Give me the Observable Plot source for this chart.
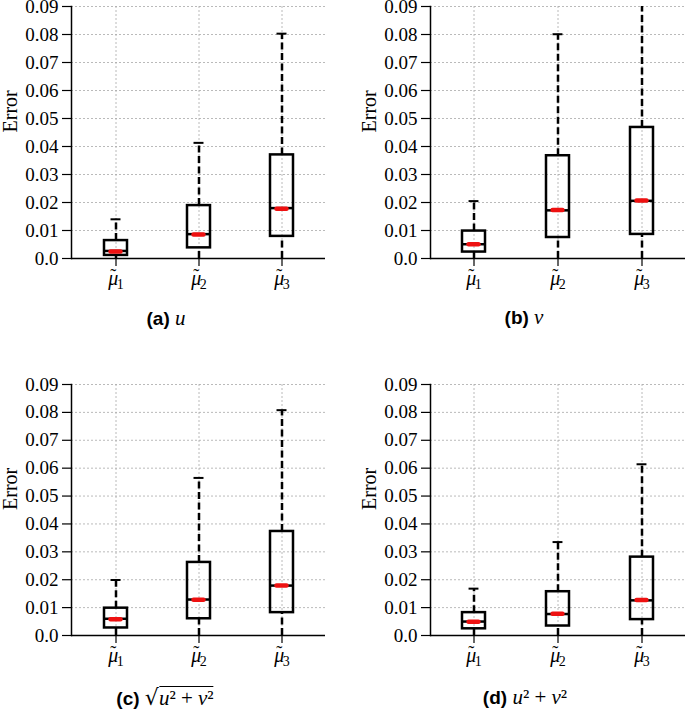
<!DOCTYPE html>
<html><head><meta charset="utf-8">
<script src="https://cdn.jsdelivr.net/npm/d3@7"></script>
<script src="https://cdn.jsdelivr.net/npm/@observablehq/plot@0.6"></script>
<style>
body{margin:0;background:#fff;}
#root{position:relative;width:685px;height:712px;overflow:hidden;background:#fff;}
.panel{position:absolute;}
.cap{position:absolute;font-family:"Liberation Sans",Arial,sans-serif;font-weight:bold;font-size:19px;line-height:22px;white-space:nowrap;transform:translateX(-50%);color:#000;}
.cap .m{font-family:"Liberation Serif",serif;font-weight:normal;font-style:italic;font-size:21px;}
.cap .n{font-family:"Liberation Serif",serif;font-weight:normal;font-style:normal;font-size:21px;}
.cap .rt{font-family:"DejaVu Serif",serif;font-weight:normal;font-size:22px;}
.cap .ov{border-top:1.4px solid #000;padding-top:1px;}
</style></head><body><div id="root"></div>
<script>
// categories (x) and y ticks
const categories = ["1", "2", "3"];
const yTicks = [0, 0.01, 0.02, 0.03, 0.04, 0.05, 0.06, 0.07, 0.08, 0.09];

// (a) u
const aLow  = [0, 0, 0];
const aQ1   = [0.0011, 0.0038, 0.0079];
const aMed  = [0.0027, 0.0087, 0.0180];
const aQ3   = [0.0064, 0.0189, 0.0370];
const aHigh = [0.0140, 0.0413, 0.0803];
const aMean = [0.0025, 0.0086, 0.0178];

// (b) v
const bLow  = [0, 0, 0];
const bQ1   = [0.0023, 0.0075, 0.0086];
const bMed  = [0.0051, 0.0172, 0.0206];
const bQ3   = [0.0098, 0.0367, 0.0468];
const bHigh = [0.0205, 0.0801, 0.0950];
const bMean = [0.0051, 0.0173, 0.0207];

// (c) sqrt(u^2+v^2)
const cLow  = [0, 0, 0];
const cQ1   = [0.0027, 0.0060, 0.0082];
const cMed  = [0.0060, 0.0129, 0.0179];
const cQ3   = [0.0098, 0.0262, 0.0373];
const cHigh = [0.0199, 0.0565, 0.0808];
const cMean = [0.0058, 0.0128, 0.0179];

// (d) u^2+v^2
const dLow  = [0, 0, 0];
const dQ1   = [0.0024, 0.0034, 0.0057];
const dMed  = [0.0050, 0.0077, 0.0126];
const dQ3   = [0.0082, 0.0157, 0.0281];
const dHigh = [0.0168, 0.0335, 0.0614];
const dMean = [0.0049, 0.0078, 0.0127];

function rowsOf(lo, q1, med, q3, hi, mean) {
  return categories.map((c, i) => ({cat: c, lo: lo[i], q1: q1[i], med: med[i], q3: q3[i], hi: hi[i], mean: mean[i]}));
}

function panel(rows, o) {
  const grid = {stroke: "#a8a8a8", strokeOpacity: 1, strokeWidth: 0.8, strokeDasharray: "2,2"};
  const plotW = o.width - o.ml - o.mr;
  const step = plotW / (3 - 0.726 + 0.75);
  const bw = step * (1 - 0.726);
  const capInset = (bw - 10) / 2;
  const redInset = (bw - 10) / 2;
  const svg = Plot.plot({
    width: o.width, height: 300,
    marginLeft: o.ml, marginRight: o.mr, marginTop: 6, marginBottom: o.mb,
    style: {fontFamily: "'Liberation Serif', serif", fontSize: "19px", color: "black", background: "transparent", overflow: "visible"},
    x: {type: "band", domain: categories, paddingInner: 0.726, paddingOuter: 0.375, label: null},
    y: {domain: [0, 0.09], label: null},
    marks: [
      Plot.gridY(yTicks, grid),
      Plot.gridX(categories, grid),
      Plot.ruleX(rows, {x: "cat", y1: "lo", y2: "q1", stroke: "black", strokeWidth: 2.5, strokeDasharray: "7,3.5"}),
      Plot.ruleX(rows, {x: "cat", y1: "q3", y2: "hi", stroke: "black", strokeWidth: 2.5, strokeDasharray: "7,3.5", clip: true}),
      Plot.tickY(rows, {x: "cat", y: "hi", stroke: "black", strokeWidth: 2, insetLeft: capInset, insetRight: capInset, clip: true}),
      Plot.barY(rows, {x: "cat", y1: "q1", y2: "q3", fill: "none", stroke: "black", strokeWidth: 2.5}),
      Plot.tickY(rows, {x: "cat", y: "med", stroke: "black", strokeWidth: 2.5}),
      Plot.tickY(rows, {x: "cat", y: "mean", stroke: "#ee1111", strokeWidth: 4.5, strokeLinecap: "round", insetLeft: redInset, insetRight: redInset}),
      Plot.ruleY([0], {stroke: "black", strokeWidth: 1.5}),
      Plot.frame({anchor: "left", stroke: "black", strokeWidth: 1.5}),
      Plot.axisX({tickSize: 8, tickPadding: 5, stroke: "black", strokeWidth: 1.2, fill: "black", tickFormat: d => "μ" + d}),
      Plot.axisY(yTicks, {tickSize: 9, tickPadding: 4, stroke: "black", strokeWidth: 1.2, fill: "black", tickFormat: d => d === 0 ? "0.0" : d.toFixed(2)}),
      Plot.text(["Error"], {frameAnchor: "left", rotate: -90, dx: -55, lineAnchor: "bottom", fontSize: 20, fill: "black"})
    ]
  });
  // tilde accent and subscript digit in the tick labels
  d3.select(svg).selectAll('g[aria-label="x-axis tick label"] text').each(function() {
    const t = d3.select(this);
    const s = t.text();
    t.text(null);
    t.append("tspan").attr("font-style", "italic").attr("font-size", "20px").text("μ");
    t.append("tspan").attr("font-size", "18px").attr("dx", "-8").attr("dy", "-3").text("˜");
    t.append("tspan").attr("font-size", "14px").attr("dx", "0.5").attr("dy", "7").text(s.slice(-1));
  });
  svg.classList.add("panel");
  svg.style.left = o.left + "px";
  svg.style.top = o.top + "px";
  return svg;
}

const root = document.getElementById("root");
root.appendChild(panel(rowsOf(aLow, aQ1, aMed, aQ3, aHigh, aMean), {width: 340, ml: 71, mr: 15, mb: 42, left: 0, top: 0}));
root.appendChild(panel(rowsOf(bLow, bQ1, bMed, bQ3, bHigh, bMean), {width: 345, ml: 90, mr: 0, mb: 42, left: 340, top: 0}));
root.appendChild(panel(rowsOf(cLow, cQ1, cMed, cQ3, cHigh, cMean), {width: 340, ml: 71, mr: 15, mb: 43, left: 0, top: 378}));
root.appendChild(panel(rowsOf(dLow, dQ1, dMed, dQ3, dHigh, dMean), {width: 345, ml: 90, mr: 0, mb: 43, left: 340, top: 378}));

function caption(html, cx, top) {
  const d = document.createElement("div");
  d.className = "cap";
  d.style.left = cx + "px";
  d.style.top = top + "px";
  d.innerHTML = html;
  root.appendChild(d);
}
caption('(a) <span class="m">u</span>', 166, 307);
caption('(b) <span class="m">v</span>', 524, 306);
caption('(c) <span class="rt">√</span><span class="ov"><span class="m">u</span><span class="n">²</span><span class="n"> + </span><span class="m">v</span><span class="n">²</span></span>', 165, 687);
caption('(d) <span class="m">u</span><span class="n">²</span><span class="n"> + </span><span class="m">v</span><span class="n">²</span>', 525, 686);
</script>
</body></html>
